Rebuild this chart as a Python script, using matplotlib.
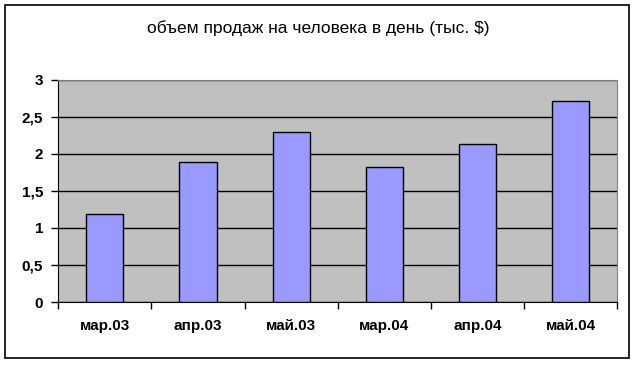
import numpy as np
import matplotlib.pyplot as plt
from matplotlib.patches import Rectangle
from matplotlib.ticker import FuncFormatter

months = ['мар.03', 'апр.03', 'май.03', 'мар.04', 'апр.04', 'май.04']
sales = [1.19, 1.89, 2.3, 1.82, 2.13, 2.71]
title = 'объем продаж на человека в день (тыс. $)'

plt.rcParams['font.family'] = ['Liberation Sans', 'DejaVu Sans']

fig = plt.figure(figsize=(6.37, 3.65), dpi=100)
fig.patches.append(Rectangle((5 / 637, 7 / 365), 624 / 637, 353 / 365,
                             transform=fig.transFigure, fill=False,
                             edgecolor='black', linewidth=1.2))

ax = fig.add_axes([0.0915, 0.1726, 0.8775, 0.6084])
ax.set_facecolor('#C0C0C0')

idx = np.arange(len(months))
ax.bar(idx, sales, width=0.4, color='#9999FF', edgecolor='black',
       linewidth=1, zorder=3)

ax.set_xlim(-0.5, len(months) - 0.5)
ax.set_ylim(0, 3)
ax.set_yticks(np.arange(0, 3.01, 0.5))
ax.yaxis.set_major_formatter(FuncFormatter(lambda v, p: ('%g' % v).replace('.', ',')))
ax.yaxis.grid(True, color='black', linewidth=1, zorder=1)
ax.set_axisbelow(True)

ax.set_xticks(idx)
ax.set_xticklabels(months)
ax.set_xticks(np.arange(-0.5, len(months)), minor=True)
ax.tick_params(axis='x', which='major', length=0, pad=12)
ax.tick_params(axis='x', which='minor', length=5, width=1, color='black')
ax.tick_params(axis='y', length=5, width=1, pad=6)
for lab in ax.get_xticklabels() + ax.get_yticklabels():
    lab.set_fontsize(11)
    lab.set_fontweight('bold')

for side in ['top', 'right']:
    ax.spines[side].set_color('#808080')
for side in ['left', 'bottom']:
    ax.spines[side].set_color('black')

fig.text(0.5, 1 - 28 / 365, title, ha='center', va='center', fontsize=12.5)

fig.savefig('out.png', dpi=100)
